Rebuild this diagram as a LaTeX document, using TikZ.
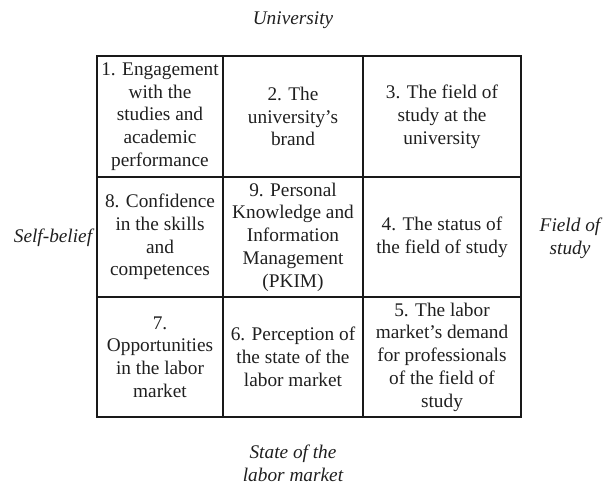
\documentclass[tikz,border=0pt]{standalone}
\usepackage{fontspec}
\setmainfont{Liberation Serif}
\usetikzlibrary{positioning}

\begin{document}
\begin{tikzpicture}[x=1pt,y=-1pt,
  cell/.style={draw=black!90, line width=1.7pt, inner sep=0pt, align=center, text=black!88,
    font=\fontsize{19.3}{22.8}\selectfont},
  axis/.style={align=center, text=black!88, font=\fontsize{19.3}{22.8}\selectfont\itshape}]
\useasboundingbox (0,0) rectangle (603,487);
% first row
\node[cell, minimum width=126, minimum height=121] (c1) at (160,116.5) {1. Engagement\\with the\\studies and\\academic\\performance};
\node[cell, minimum width=140, minimum height=121] (c2) at (293,116.5) {2. The\\university’s\\brand};
\node[cell, minimum width=158, minimum height=121] (c3) at (442,116.5) {3. The field of\\study at the\\university};
% second row
\node[cell, minimum width=126, minimum height=120] (c8) at (160,237) {8. Confidence\\in the skills\\and\\competences};
\node[cell, minimum width=140, minimum height=120] (c9) at (293,237) {9. Personal\\Knowledge and\\Information\\Management\\(PKIM)};
\node[cell, minimum width=158, minimum height=120] (c4) at (442,237) {4. The status of\\the field of study};
% third row
\node[cell, minimum width=126, minimum height=120] (c7) at (160,357) {7.\\Opportunities\\in the labor\\market};
\node[cell, minimum width=140, minimum height=120] (c6) at (293,357) {6. Perception of\\the state of the\\labor market};
\node[cell, minimum width=158, minimum height=120] (c5) at (442,357) {5. The labor\\market’s demand\\for professionals\\of the field of\\study};
% labels round the grid
\node[axis] (univ) at (293,20) {University};
\node[axis] (self) at (53,238) {Self-belief};
\node[axis] (field) at (570,238.5) {Field of\\study};
\node[axis] (labor) at (293,463) {State of the\\labor market};
\end{tikzpicture}
\end{document}
